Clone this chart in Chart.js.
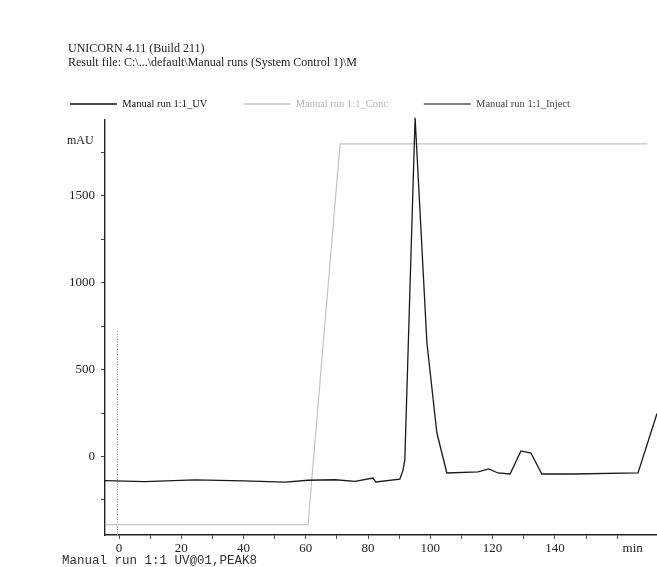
<!DOCTYPE html>
<html>
<head>
<meta charset="utf-8">
<script src="https://cdn.jsdelivr.net/npm/chart.js@4.4.0/dist/chart.umd.min.js"></script>
<style>
  body { margin: 0; background: #fff; }
  #wrap { position: relative; width: 657px; height: 567px; }
  .txt { position: absolute; font-family: "Liberation Serif", serif; color: #222; white-space: nowrap; }
</style>
</head>
<body>
<div id="wrap">
  <canvas id="myChart"></canvas>
  <div class="txt" style="left:68px; top:41px; font-size:12px; line-height:14px;">UNICORN 4.11 (Build 211)<br>Result file: C:\...\default\Manual runs (System Control 1)\M</div>
  <div class="txt" style="left:67px; top:133px; font-size:12px;">mAU</div>
  <div class="txt" style="left:62px; top:555px; font-family:'Liberation Mono', monospace; font-size:12.5px; line-height:13px; color:#333;">Manual run 1:1 UV@01,PEAK8</div>
</div>
<script>
// Chromatogram - values
const uvLabel = "Manual run 1:1_UV";
const concLabel = "Manual run 1:1_Conc";
const injectLabel = "Manual run 1:1_Inject";

const uvTime = [-4.5, 8.3, 24.4, 40, 53.3, 60.7, 69.4, 75.8, 81.6, 82.5, 90.2, 91.2, 91.8, 95.1, 98.9, 102.1, 105.3, 115.3, 118.8, 121.7, 125.6, 129.1, 132.3, 135.8, 145.8, 166.7, 172.8];
const uvValue = [-139, -145, -135, -140, -148, -137, -134, -143, -124, -147, -130, -80, -20, 1950, 653, 135, -95, -89, -72, -95, -101, 32, 20, -101, -101, -95, 247];

const concTime = [-4.5, 60.7, 71, 169.6];
const concValue = [-392, -392, 1799, 1799];

const injectTime = [-0.5, -0.5];
const injectValue = [-452, 727];

const xTicks = [0, 10, 20, 30, 40, 50, 60, 70, 80, 90, 100, 110, 120, 130, 140, 150, 160, 165];
const yTicks = [-250, 0, 250, 500, 750, 1000, 1250, 1500, 1750];

const toPoints = (xs, ys) => xs.map((x, i) => ({ x: x, y: ys[i] }));

const ctx = document.getElementById("myChart").getContext("2d");

const myChart = new Chart(ctx, {
    type: 'line',
    data: {
        datasets: [
            {
                label: uvLabel,
                data: toPoints(uvTime, uvValue),
                borderColor: "#1a1a1a",
                backgroundColor: "#1a1a1a",
                borderWidth: 1.3,
                pointRadius: 0,
                clip: false,
            },
            {
                label: concLabel,
                data: toPoints(concTime, concValue),
                borderColor: "#c4c4c4",
                backgroundColor: "#c4c4c4",
                borderWidth: 1.2,
                pointRadius: 0,
            },
            {
                label: injectLabel,
                data: toPoints(injectTime, injectValue),
                borderColor: "#8a8a8a",
                backgroundColor: "#555",
                borderWidth: 1,
                borderDash: [1, 1.5],
                pointRadius: 0,
            },
        ]
    },
    options: {
        responsive: true,
        maintainAspectRatio: false,
        animation: false,
        layout: {
            padding: { left: 34, right: 0, top: 62.75, bottom: 0 }
        },
        plugins: {
            tooltip: { enabled: false },
            legend: {
                display: true,
                position: 'top',
                align: 'start',
                labels: {
                    padding: 36,
                    boxWidth: 47,
                    boxHeight: 1.3,
                    font: { family: 'Liberation Serif', size: 10.5 },
                    generateLabels: function (chart) {
                        const textColors = ["#111", "#b5b5b5", "#444"];
                        const lineColors = ["#111", "#c4c4c4", "#555"];
                        return chart.data.datasets.map((ds, i) => ({
                            text: ds.label,
                            fillStyle: lineColors[i],
                            strokeStyle: lineColors[i],
                            lineWidth: 0,
                            fontColor: textColors[i],
                            datasetIndex: i,
                            hidden: false,
                        }));
                    }
                }
            }
        },
        scales: {
            x: {
                type: 'linear',
                min: -4.5,
                max: 172.8,
                afterBuildTicks: function (scale) {
                    scale.ticks = xTicks.map(v => ({ value: v }));
                },
                afterFit: function (scale) {
                    scale.height = 32;
                },
                grid: {
                    drawOnChartArea: false,
                    tickLength: 4,
                    tickColor: function (c) {
                        return c.tick && c.tick.value === 165 ? 'rgba(0,0,0,0)' : '#555';
                    },
                },
                border: { display: true, color: '#222', width: 1.4 },
                ticks: {
                    autoSkip: false,
                    maxRotation: 0,
                    padding: 2,
                    color: '#222',
                    font: { family: 'Liberation Serif', size: 13 },
                    callback: function (value) {
                        if (value === 165) return 'min';
                        if (value % 20 === 0 && value <= 140) return String(value);
                        return '';
                    }
                }
            },
            y: {
                type: 'linear',
                min: -452,
                max: 1941,
                afterBuildTicks: function (scale) {
                    scale.ticks = yTicks.map(v => ({ value: v }));
                },
                afterFit: function (scale) {
                    scale.width = 71;
                },
                grid: {
                    drawOnChartArea: false,
                    tickLength: 4,
                    tickColor: '#444',
                },
                border: { display: true, color: '#222', width: 1.4 },
                ticks: {
                    padding: 6,
                    color: '#222',
                    font: { family: 'Liberation Serif', size: 13 },
                    callback: function (value) {
                        return value % 500 === 0 ? String(value) : '';
                    }
                }
            }
        }
    },
});
</script>
</body>
</html>
